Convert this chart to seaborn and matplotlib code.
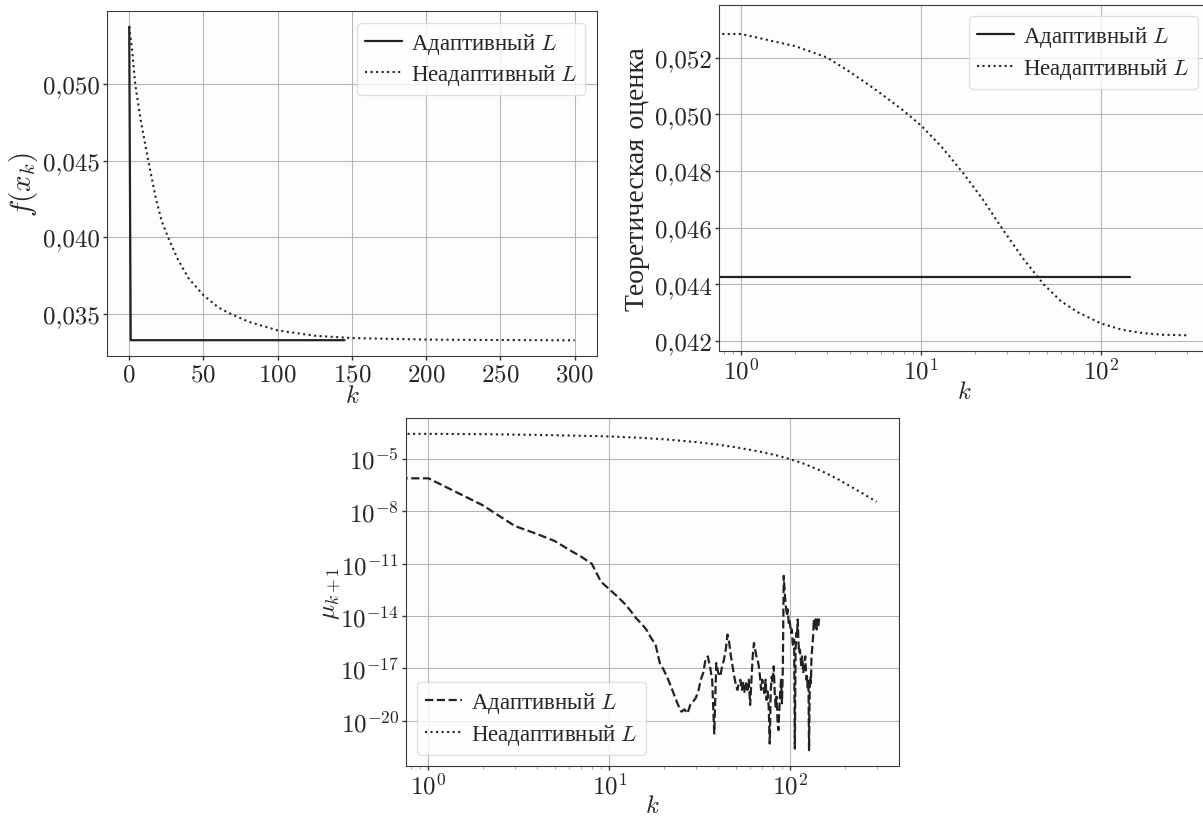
import numpy as np
import pandas as pd
import matplotlib
matplotlib.use("Agg")
import matplotlib.pyplot as plt
import seaborn as sns
from matplotlib.ticker import FuncFormatter, MultipleLocator, NullLocator

# ---- data ----
LABEL_ADAPT = "Адаптивный $L$"
LABEL_NONADAPT = "Неадаптивный $L$"

# f(x_k)
k_f_adapt = [0, 1, 145]
f_adapt = [0.05375, 0.03326, 0.03326]
k_f_nonadapt = [0, 2, 4, 8, 13, 18, 22, 27, 33, 40, 50, 60, 68, 80, 100, 125, 150, 200, 250, 300]
f_nonadapt = [0.05375, 0.0522, 0.0500, 0.0475, 0.0449, 0.0425, 0.0410, 0.0398, 0.0385, 0.0373,
              0.0362, 0.0354, 0.0350, 0.03448, 0.0339, 0.03355, 0.0334, 0.0333, 0.03327, 0.03325]

# theoretical estimate
k_est_adapt = [0, 145]
est_adapt = [0.04426, 0.04426]
k_est_nonadapt = [0, 1, 2, 3, 4, 5, 6, 8, 10, 13, 17, 22, 28, 37, 48, 60, 75, 100, 130, 170, 220, 300]
est_nonadapt = [0.0533, 0.05283, 0.05240, 0.05200, 0.05150, 0.05108, 0.05072, 0.05012, 0.04960,
                0.04885, 0.04795, 0.04700, 0.04600, 0.04490, 0.04400, 0.04340, 0.04300, 0.04262,
                0.04240, 0.04228, 0.04222, 0.04220]

# mu_{k+1}, stored as log10 values
k_mu_adapt = list(range(146))
log_mu_adapt = [
    -6.1, -6.1, -7.65, -8.83, -9.3, -9.7, -10.2, -10.6, -11.0, -12.04,
    -12.46, -12.85, -13.23, -13.65, -14.1, -14.42, -14.77, -15.25, -15.63, -16.69,
    -17.1, -17.56, -18.08, -18.62, -19.1, -19.48, -19.35, -19.58, -19.1, -18.9,
    -18.71, -18.33, -17.65, -17.27, -16.5, -16.31, -16.88, -17.65, -20.73, -16.69,
    -17.27, -17.46, -16.88, -16.5, -15.92, -15.06, -15.54, -16.31, -16.88, -17.46,
    -17.94, -18.23, -17.85, -17.65, -18.23, -17.75, -18.42, -17.85, -18.23, -17.65,
    -19.1, -17.65, -16.31, -15.54, -15.92, -16.31, -16.5, -16.88, -17.46, -18.23,
    -17.65, -18.04, -18.42, -17.65, -18.81, -18.33, -19.19, -21.31, -18.23, -17.46,
    -17.85, -16.88, -18.33, -19.19, -18.62, -19.96, -20.54, -19.38, -18.23, -17.65,
    -19.0, -16.88, -11.69, -12.46, -13.23, -13.62, -14.0, -13.62, -14.38, -14.19,
    -14.58, -14.96, -14.77, -15.54, -15.73, -15.35, -21.6, -15.92, -14.96, -15.15,
    -14.19, -15.54, -16.12, -15.92, -16.31, -16.88, -16.31, -16.5, -17.27, -16.88,
    -16.5, -16.31, -17.08, -17.65, -17.46, -18.23, -17.65, -21.69, -18.23, -17.46,
    -17.85, -16.31, -15.92, -15.54, -14.96, -14.19, -14.77, -14.38, -14.19, -14.38,
    -14.77, -14.19, -14.38, -14.58, -14.19, -14.38,
]
k_mu_nonadapt = [0, 1, 2, 4, 7, 10, 15, 20, 30, 40, 50, 60, 70, 85, 100, 120, 150, 180, 210, 250, 300]
log_mu_nonadapt = [-3.55, -3.55, -3.57, -3.61, -3.66, -3.7, -3.78, -3.86, -4.02, -4.17, -4.32,
                   -4.47, -4.6, -4.8, -5.0, -5.28, -5.7, -6.1, -6.5, -6.95, -7.45]

LINE_COLOR = "#222222"

sns.set_style("whitegrid", rc={
    "axes.edgecolor": "#3a3a3a",
    "axes.linewidth": 1.2,
    "grid.color": "#b5b5b5",
    "grid.linewidth": 1.0,
    "xtick.bottom": True,
    "ytick.left": True,
})
plt.rcParams["font.family"] = ["cmr10", "Liberation Serif"]
plt.rcParams["mathtext.fontset"] = "cm"
plt.rcParams["axes.formatter.use_mathtext"] = True
plt.rcParams["axes.unicode_minus"] = False

TICK_SIZE = 18
LABEL_SIZE = 18
# legend strings mix Cyrillic with mathtext, so the text font must hold Cyrillic itself
LEGEND_PROP = {"family": "Liberation Serif", "size": 16.5}

comma_fmt = FuncFormatter(lambda v, pos: "{:.3f}".format(v).replace(".", ","))


def style_axis(ax):
    ax.tick_params(which="major", labelsize=TICK_SIZE, length=3.0, width=1.0, color="#333333", pad=2)
    ax.tick_params(which="minor", length=2.5, width=0.8, color="#aaaaaa")
    ax.set_facecolor("#fdfdfd")


def add_legend(ax, loc):
    ax.legend(loc=loc, prop=LEGEND_PROP, framealpha=0.8, edgecolor="0.85",
              handlelength=1.6, handletextpad=0.4, borderpad=0.35, labelspacing=0.3)


fig = plt.figure(figsize=(12.03, 8.20), dpi=100)
ax1 = fig.add_axes([0.0889, 0.5646, 0.4073, 0.4207])
ax2 = fig.add_axes([0.5977, 0.5707, 0.4073, 0.4220])
ax3 = fig.add_axes([0.3375, 0.0646, 0.4098, 0.4244])

# --- top left: f(x_k)
sns.lineplot(x=k_f_adapt, y=f_adapt, ax=ax1, color=LINE_COLOR, lw=1.6, ls="-", label=LABEL_ADAPT)
sns.lineplot(x=k_f_nonadapt, y=f_nonadapt, ax=ax1, color=LINE_COLOR, lw=1.5, ls=":", label=LABEL_NONADAPT)
ax1.xaxis.set_major_locator(MultipleLocator(50))
ax1.yaxis.set_major_locator(MultipleLocator(0.005))
ax1.yaxis.set_major_formatter(comma_fmt)
ax1.set_xlabel("$k$", fontsize=LABEL_SIZE, labelpad=0)
ax1.set_ylabel("$f(x_k)$", fontsize=21, labelpad=2)
add_legend(ax1, "upper right")
style_axis(ax1)

# --- top right: theoretical estimate
sns.lineplot(x=k_est_adapt, y=est_adapt, ax=ax2, color=LINE_COLOR, lw=1.6, ls="-", label=LABEL_ADAPT)
sns.lineplot(x=k_est_nonadapt, y=est_nonadapt, ax=ax2, color=LINE_COLOR, lw=1.5, ls=":", label=LABEL_NONADAPT)
ax2.set_xscale("log")
ax2.yaxis.set_major_locator(MultipleLocator(0.002))
ax2.yaxis.set_major_formatter(comma_fmt)
ax2.set_xlabel("$k$", fontsize=LABEL_SIZE, labelpad=-2)
ax2.set_ylabel("Теоретическая оценка", fontsize=20)
add_legend(ax2, "upper right")
style_axis(ax2)

# --- bottom: mu_{k+1}
mu_adapt = 10.0 ** np.array(log_mu_adapt)
mu_nonadapt = 10.0 ** np.array(log_mu_nonadapt)
sns.lineplot(x=k_mu_adapt, y=mu_adapt, ax=ax3, color=LINE_COLOR, lw=1.6, ls="--", label=LABEL_ADAPT)
sns.lineplot(x=k_mu_nonadapt, y=mu_nonadapt, ax=ax3, color=LINE_COLOR, lw=1.5, ls=":", label=LABEL_NONADAPT)
ax3.set_xscale("log")
ax3.set_yscale("log")
ax3.set_yticks([10.0 ** e for e in range(-20, -4, 3)])
ax3.yaxis.set_minor_locator(NullLocator())
ax3.set_xlabel("$k$", fontsize=LABEL_SIZE, labelpad=-3)
ax3.set_ylabel("$\\mu_{k+1}$", fontsize=LABEL_SIZE, labelpad=-2)
add_legend(ax3, "lower left")
style_axis(ax3)

fig.savefig("out.png", dpi=100)
